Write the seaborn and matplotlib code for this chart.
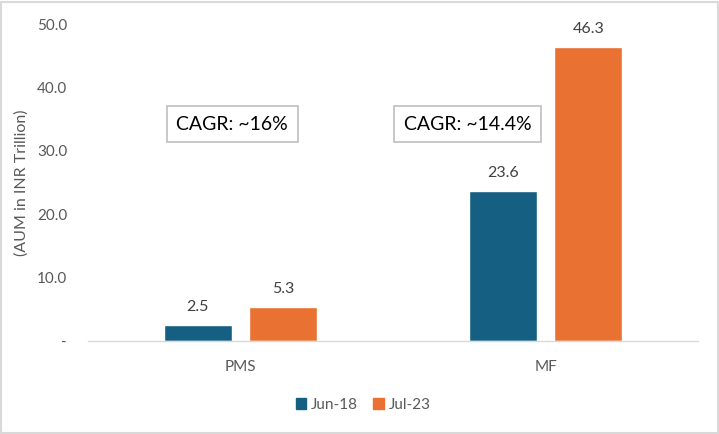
import numpy as np
import pandas as pd
import seaborn as sns
import matplotlib.pyplot as plt
from matplotlib.ticker import FixedLocator

# data
categories = ['PMS', 'MF']
periods = ['Jun-18', 'Jul-23']
jun18 = [2.5, 23.6]
jul23 = [5.3, 46.3]
cagr_labels = ['CAGR: ~16%', 'CAGR: ~14.4%']
yticks = [0, 10, 20, 30, 40, 50]
ytick_labels = ['-', '10.0', '20.0', '30.0', '40.0', '50.0']

df = pd.DataFrame({
    'segment': categories * 2,
    'period': [periods[0]] * 2 + [periods[1]] * 2,
    'aum': jun18 + jul23,
})

sns.set_style('white')
plt.rcParams['font.family'] = ['Lato', 'DejaVu Sans']

fig = plt.figure(figsize=(7.19, 4.34), dpi=100)
ax = fig.add_axes([0.1224, 0.2143, 0.8484, 0.7304])

sns.barplot(data=df, x='segment', y='aum', hue='period', order=categories,
            hue_order=periods, palette=['#156082', '#E97132'], saturation=1,
            width=0.56, gap=0.21, ax=ax, legend=True)

for cont in ax.containers:
    ax.bar_label(cont, fmt='%.1f', padding=8, fontsize=11.5, color='#404040')

ax.set_ylim(0, 50)
ax.set_xlim(-0.5, 1.5)
ax.set_yticks(yticks)
ax.set_yticklabels(ytick_labels, fontsize=11, color='#595959')
ax.tick_params(axis='y', length=0, pad=15)
ax.tick_params(axis='x', which='major', length=0, labelsize=11,
               labelcolor='#595959', pad=14)
ax.xaxis.set_minor_locator(FixedLocator([-0.5, 0.5, 1.5]))
ax.tick_params(axis='x', which='minor', length=5, color='#D9D9D9', width=1)
ax.set_xlabel('')
ax.set_ylabel('(AUM in INR Trillion)', fontsize=11.5, color='#595959')
ax.yaxis.set_label_coords(-0.098, 0.5)

for s in ['top', 'right', 'left']:
    ax.spines[s].set_visible(False)
ax.spines['bottom'].set_color('#D9D9D9')
ax.spines['bottom'].set_linewidth(1)

# CAGR boxes
box_x = [-0.21, 0.536]
for bx, txt in zip(box_x, cagr_labels):
    ax.text(bx, 34.2, txt, fontsize=14, color='#000000', va='center', ha='left',
            bbox=dict(boxstyle='square,pad=0.5', facecolor='white',
                      edgecolor='#BFBFBF', linewidth=1.2))

ax.get_legend().remove()
handles = [plt.Rectangle((0, 0), 1, 1, color=c) for c in ['#156082', '#E97132']]
leg = fig.legend(handles, periods, loc='center', bbox_to_anchor=(0.505, 0.067), ncol=2,
                 frameon=False, fontsize=11, handlelength=0.7, handleheight=0.7,
                 handletextpad=0.3, columnspacing=1.0)
for t in leg.get_texts():
    t.set_color('#595959')

fig.patches.append(plt.Rectangle((0.002, 0.002), 0.996, 0.994, transform=fig.transFigure,
                                 fill=False, edgecolor='#D9D9D9', linewidth=1.5))

fig.savefig('out.png', dpi=100)
